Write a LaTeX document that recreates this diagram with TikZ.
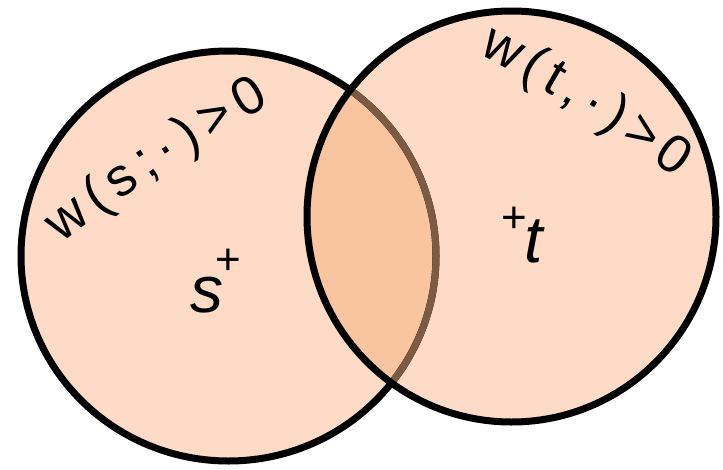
\documentclass[tikz,border=0pt]{standalone}
\usepackage{fontspec}
\setmainfont{Liberation Sans}
\usetikzlibrary{decorations.text}
\definecolor{peach}{RGB}{253,219,198}
\definecolor{overlap}{RGB}{249,196,160}
\definecolor{arcbrown}{RGB}{125,90,66}
\begin{document}
\begin{tikzpicture}[x=1pt,y=-1pt,
  setline/.style={line width=7pt},
  curvedlabel/.style={decorate, decoration={text along path, text align={fit to path}, text format delimiters={|}{|}}},
  bigletter/.style={inner sep=0pt, anchor=base west, font=\fontsize{66}{66}\selectfont\itshape},
  plussign/.style={inner sep=0pt, font=\fontsize{44}{44}\selectfont}
]
\useasboundingbox (0,0) rectangle (723,469);
\coordinate (L) at (228.5,256);
\coordinate (R) at (511.5,216.5);
% fills
\fill[peach] (L) ellipse [x radius=207.5pt, y radius=205pt];
\fill[peach] (R) ellipse [x radius=204.5pt, y radius=205.5pt];
\begin{scope}
  \clip (L) ellipse [x radius=207.5pt, y radius=205pt];
  \fill[overlap] (R) ellipse [x radius=204.5pt, y radius=205.5pt];
\end{scope}
% outlines
\draw[setline, black] (L) ellipse [x radius=207.5pt, y radius=205pt];
\begin{scope}
  \clip (R) ellipse [x radius=204.5pt, y radius=205.5pt];
  \draw[setline, arcbrown] (L) ellipse [x radius=207.5pt, y radius=205pt];
\end{scope}
\draw[setline, black] (R) ellipse [x radius=204.5pt, y radius=205.5pt];
% curved labels
\coordinate (ls) at (62,244);
\coordinate (le) at (270,104);
\coordinate (rs) at (478,54);
\coordinate (re) at (676,178);
\path[curvedlabel, decoration={text={|\fontsize{54}{54}\selectfont|w(s;·)>0}}] (ls) to[bend left=4] (le);
\path[curvedlabel, decoration={text={|\fontsize{54}{54}\selectfont|w(t,·)>0}}] (rs) to[bend left=4] (re);
% points
\node[bigletter] (s) at (190,312) {s};
\node[plussign] (sp) at (228,262) {+};
\node[bigletter] (t) at (524,262) {t};
\node[plussign] (tp) at (514,220) {+};
\end{tikzpicture}
\end{document}
